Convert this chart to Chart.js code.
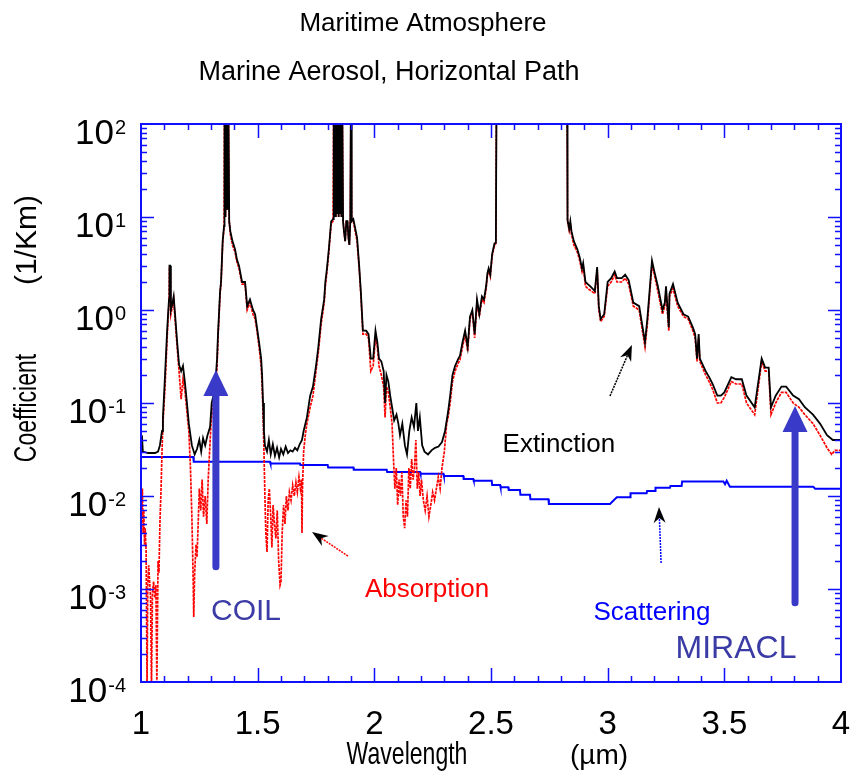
<!DOCTYPE html>
<html>
<head>
<meta charset="UTF-8">
<title>Maritime Atmosphere</title>
<script src="https://cdn.jsdelivr.net/npm/chart.js@4.4.0/dist/chart.umd.min.js"></script>
<style>
  body { margin: 0; background: #fff; }
</style>
</head>
<body>
<canvas id="chart" width="856" height="774"></canvas>
<script>
// values: [wavelength (um), coefficient (1/km)]
var extinction = [
  [1.000,0.032],[1.004,0.045],[1.008,0.030],[1.030,0.029],[1.060,0.029],[1.073,0.030],
  [1.081,0.035],[1.090,0.05],[1.094,0.07],[1.103,0.2],[1.112,0.6],[1.116,0.9],[1.120,1.3],[1.122,3.0],[1.125,3.0],[1.128,1.0],[1.135,1.2],[1.140,1.4],[1.146,0.9],
  [1.155,0.45],[1.163,0.26],[1.172,0.22],[1.180,0.25],[1.189,0.16],[1.197,0.10],[1.205,0.06],[1.218,0.035],[1.230,0.028],
  [1.240,0.032],[1.250,0.04],[1.258,0.03],[1.266,0.042],[1.275,0.035],[1.285,0.045],
  [1.296,0.055],[1.303,0.10],[1.317,0.14],[1.326,0.30],[1.330,0.55],[1.339,1.6],[1.343,2.0],[1.350,5.5],[1.356,8.0],
  [1.358,300],[1.362,10],[1.366,300],[1.370,12],[1.374,300],[1.378,9],
  [1.383,7],[1.392,5.5],[1.403,4.5],[1.411,3.5],[1.420,3.0],[1.433,2.0],[1.446,2.0],[1.455,1.1],[1.467,1.3],[1.480,1.0],
  [1.489,0.9],[1.497,0.65],[1.506,0.45],[1.515,0.30],[1.519,0.20],[1.523,0.10],[1.527,0.05],[1.531,0.035],
  [1.540,0.03],[1.548,0.04],[1.556,0.028],[1.565,0.036],[1.574,0.027],[1.583,0.033],[1.592,0.026],[1.600,0.032],[1.610,0.028],[1.620,0.034],[1.630,0.029],[1.640,0.031],[1.650,0.030],[1.660,0.033],[1.670,0.031],[1.680,0.036],
  [1.690,0.04],[1.697,0.05],[1.711,0.07],[1.725,0.12],[1.737,0.15],[1.750,0.25],[1.760,0.4],[1.772,0.8],[1.785,1.3],[1.790,2.0],[1.797,2.8],[1.805,4.5],[1.815,9],[1.823,9.5],
  [1.826,300],[1.829,10],[1.832,300],[1.835,10],[1.838,300],[1.841,11],[1.844,300],[1.847,10],[1.850,300],[1.853,11],[1.856,300],[1.859,10],[1.862,300],[1.866,9],[1.870,7],[1.875,5.5],[1.880,9],[1.885,9],[1.889,6],[1.893,5],[1.897,9],[1.900,300],[1.903,9],[1.910,9.5],
  [1.926,6],[1.935,3],[1.942,1.6],[1.951,0.6],[1.965,0.6],[1.975,0.55],[1.985,0.30],[1.995,0.30],[2.005,0.6],[2.013,0.45],[2.020,0.30],[2.030,0.28],[2.040,0.22],[2.046,0.10],[2.052,0.20],[2.060,0.17],[2.068,0.12],[2.076,0.09],[2.085,0.065],[2.095,0.075],[2.103,0.06],[2.110,0.045],[2.120,0.06],[2.131,0.035],[2.140,0.028],[2.150,0.05],[2.160,0.07],[2.170,0.055],[2.180,0.10],[2.187,0.05],[2.195,0.07],[2.205,0.035],[2.215,0.03],[2.230,0.028],[2.245,0.031],[2.260,0.033],[2.275,0.034],[2.290,0.038],
  [2.303,0.05],[2.316,0.08],[2.325,0.12],[2.335,0.20],[2.346,0.25],[2.360,0.30],[2.367,0.32],[2.378,0.45],[2.389,0.60],[2.400,0.40],[2.410,0.85],[2.420,1.0],[2.430,0.55],[2.440,1.3],[2.450,0.9],[2.461,1.4],[2.470,1.3],[2.479,1.8],[2.485,2.5],[2.490,2.8],[2.497,2.4],[2.505,4.0],[2.515,5.2],[2.521,5.3],[2.524,400],[2.600,1000],[2.800,1000],[2.826,400],
  [2.828,9.3],[2.835,7.5],[2.840,9.0],[2.845,7.0],[2.855,5.5],[2.870,4.5],[2.880,3.7],[2.890,2.8],[2.895,3.2],[2.905,2.0],[2.915,1.9],[2.930,1.75],[2.945,1.6],[2.955,2.9],[2.962,1.1],[2.970,0.8],[2.985,0.9],[3.000,2.0],[3.015,2.2],[3.030,2.6],[3.040,2.2],[3.060,2.2],[3.075,2.4],[3.090,2.1],[3.110,1.2],[3.135,1.1],[3.160,0.45],[3.170,0.8],[3.190,3.4],[3.200,2.6],[3.215,1.8],[3.235,1.0],[3.245,1.2],[3.250,1.8],[3.262,0.65],[3.265,1.5],[3.280,1.9],[3.300,1.2],[3.325,0.9],[3.345,0.85],[3.365,0.65],[3.375,0.55],[3.383,0.30],[3.390,0.55],[3.395,0.30],
  [3.420,0.22],[3.435,0.19],[3.450,0.16],[3.470,0.12],[3.485,0.12],[3.500,0.13],[3.530,0.19],[3.550,0.18],[3.575,0.18],[3.595,0.12],[3.630,0.09],[3.660,0.30],[3.675,0.24],[3.690,0.24],[3.700,0.09],[3.720,0.12],[3.745,0.15],[3.765,0.15],[3.795,0.12],[3.820,0.11],[3.845,0.09],[3.880,0.075],[3.910,0.06],[3.940,0.045],[3.965,0.040],[4.000,0.040]
];

var absorption = [
  [1.000,0.010],[1.003,0.006],[1.006,0.012],[1.009,0.004],[1.012,0.007],[1.015,0.003],[1.018,0.0045],[1.022,0.0025],[1.026,0.00009],[1.029,0.0011],[1.033,0.0018],[1.037,0.0012],[1.041,0.0008],[1.045,0.00009],[1.049,0.0009],[1.054,0.0012],[1.059,0.0008],[1.064,0.0011],[1.068,0.00009],[1.073,0.002],[1.077,0.0015],
  [1.081,0.005],[1.086,0.012],[1.090,0.03],[1.094,0.06],[1.103,0.15],[1.112,0.5],[1.116,0.8],[1.120,1.2],[1.122,2.8],[1.125,2.8],[1.128,0.9],[1.135,1.1],[1.140,1.3],[1.146,0.8],
  [1.155,0.40],[1.163,0.22],[1.172,0.11],[1.180,0.18],[1.189,0.13],[1.197,0.08],[1.205,0.05],[1.212,0.02],[1.218,0.006],[1.223,0.0015],[1.226,0.0005],[1.230,0.0015],[1.236,0.003],[1.240,0.0022],[1.245,0.005],[1.250,0.012],[1.256,0.007],[1.262,0.015],[1.268,0.006],[1.275,0.010],[1.282,0.005],[1.288,0.015],[1.294,0.03],
  [1.300,0.06],[1.309,0.10],[1.317,0.12],[1.326,0.25],[1.330,0.50],[1.339,1.5],[1.343,1.9],[1.350,5.2],[1.356,7.8],
  [1.358,300],[1.362,10],[1.366,300],[1.370,12],[1.374,300],[1.378,9],
  [1.383,6.5],[1.392,5.0],[1.403,4.2],[1.411,3.3],[1.420,2.8],[1.433,1.9],[1.446,1.9],[1.455,1.0],[1.467,1.2],[1.480,0.9],[1.489,0.8],[1.497,0.6],[1.506,0.4],[1.515,0.25],[1.519,0.16],[1.523,0.08],[1.527,0.03],[1.531,0.010],[1.535,0.004],[1.540,0.0025],
  [1.545,0.009],[1.550,0.012],[1.556,0.006],[1.561,0.0028],[1.566,0.008],[1.572,0.005],[1.578,0.0035],[1.584,0.007],[1.590,0.002],[1.596,0.0011],[1.600,0.0012],[1.605,0.004],[1.611,0.008],[1.617,0.005],[1.623,0.010],[1.630,0.007],[1.636,0.011],[1.643,0.009],[1.650,0.013],[1.657,0.010],[1.664,0.014],[1.670,0.011],[1.677,0.016],[1.683,0.012],[1.688,0.015],[1.690,0.004],[1.692,0.012],
  [1.697,0.03],[1.704,0.045],[1.711,0.06],[1.725,0.09],[1.737,0.12],[1.750,0.22],[1.760,0.35],[1.772,0.7],[1.785,1.2],[1.790,1.8],[1.797,2.6],[1.805,4.2],[1.815,8.5],[1.823,9.0],
  [1.826,300],[1.829,10],[1.832,300],[1.835,10],[1.838,300],[1.841,11],[1.844,300],[1.847,10],[1.850,300],[1.853,11],[1.856,300],[1.859,10],[1.862,300],[1.866,9],[1.870,7],[1.875,5.5],[1.880,9],[1.885,9],[1.889,6],[1.893,5],[1.897,9],[1.900,300],[1.903,9],[1.910,9.0],
  [1.926,5.5],[1.935,2.8],[1.942,1.5],[1.951,0.55],[1.965,0.55],[1.975,0.5],[1.985,0.22],[1.995,0.25],[2.005,0.5],[2.013,0.4],[2.020,0.25],[2.030,0.20],[2.040,0.15],[2.046,0.07],[2.052,0.15],[2.060,0.13],[2.068,0.09],[2.076,0.06],
  [2.082,0.025],[2.088,0.012],[2.094,0.02],[2.100,0.008],[2.106,0.015],[2.112,0.010],[2.118,0.018],[2.124,0.006],[2.130,0.0045],[2.136,0.009],[2.142,0.006],[2.148,0.02],[2.154,0.012],[2.160,0.025],[2.166,0.015],[2.172,0.02],[2.178,0.04],[2.184,0.012],[2.190,0.018],[2.196,0.010],[2.202,0.015],[2.210,0.009],[2.218,0.007],[2.226,0.010],[2.234,0.006],[2.242,0.008],[2.250,0.011],[2.258,0.009],[2.266,0.012],[2.274,0.016],[2.282,0.012],[2.290,0.020],
  [2.300,0.030],[2.310,0.06],[2.316,0.07],[2.325,0.10],[2.335,0.17],[2.346,0.22],[2.360,0.27],[2.367,0.29],[2.378,0.40],[2.389,0.55],[2.400,0.36],[2.410,0.80],[2.420,0.95],[2.430,0.50],[2.440,1.2],[2.450,0.85],[2.461,1.3],[2.470,1.2],[2.479,1.7],[2.485,2.4],[2.490,2.7],[2.497,2.3],[2.505,3.8],[2.515,5.0],[2.521,5.2],[2.524,400],[2.600,1000],[2.800,1000],[2.826,400],
  [2.828,9.0],[2.835,7.2],[2.840,8.5],[2.845,6.5],[2.855,5.0],[2.870,4.2],[2.880,3.4],[2.890,2.6],[2.895,3.0],[2.905,1.8],[2.915,1.7],[2.930,1.6],[2.945,1.5],[2.955,2.7],[2.962,1.0],[2.970,0.75],[2.985,0.85],[3.000,1.8],[3.015,2.0],[3.030,2.4],[3.040,2.0],[3.060,2.0],[3.075,2.2],[3.090,1.9],[3.110,1.1],[3.135,1.0],[3.160,0.40],[3.170,0.7],[3.190,3.1],[3.200,2.4],[3.215,1.6],[3.235,0.9],[3.245,1.1],[3.250,1.6],[3.262,0.6],[3.265,1.4],[3.280,1.7],[3.300,1.1],[3.325,0.85],[3.345,0.8],[3.365,0.6],[3.375,0.5],[3.383,0.28],[3.390,0.5],[3.395,0.28],
  [3.420,0.20],[3.435,0.17],[3.450,0.14],[3.470,0.10],[3.485,0.10],[3.500,0.115],[3.530,0.17],[3.550,0.16],[3.575,0.16],[3.595,0.10],[3.630,0.075],[3.660,0.28],[3.675,0.22],[3.690,0.22],[3.700,0.075],[3.720,0.10],[3.745,0.13],[3.765,0.13],[3.795,0.10],[3.820,0.09],[3.845,0.075],[3.880,0.06],[3.910,0.045],[3.940,0.033],[3.960,0.028],[3.975,0.031],[4.000,0.031]
];

var scattering = [
  [1.000,0.0263],[1.224,0.0263],[1.226,0.0234],[1.553,0.0234],[1.555,0.0224],[1.681,0.0224],[1.683,0.0215],[1.800,0.0215],[1.802,0.0203],[1.910,0.0203],[1.912,0.0191],[2.053,0.0191],[2.055,0.0181],[2.196,0.0181],[2.198,0.0173],[2.296,0.0173],[2.298,0.0164],[2.381,0.0164],[2.383,0.0152],[2.424,0.0152],[2.426,0.0146],[2.503,0.0146],[2.505,0.0131],[2.539,0.0131],[2.541,0.0124],[2.574,0.0124],[2.576,0.0116],[2.624,0.0116],[2.626,0.0103],[2.667,0.0103],[2.669,0.0092],[2.746,0.0092],[2.748,0.0082],
  [3.010,0.0082],[3.039,0.0097],[3.096,0.0097],[3.098,0.0107],[3.167,0.0107],[3.169,0.0113],[3.203,0.0113],[3.205,0.0123],[3.267,0.0123],[3.269,0.0128],[3.317,0.0128],[3.319,0.0143],[3.496,0.0143],[3.503,0.0134],[3.510,0.0146],[3.524,0.0126],[3.881,0.0126],[3.889,0.0120],[4.000,0.0120]
];

var xTickLabels = ['1', '1.5', '2', '2.5', '3', '3.5', '4'];
var xTickValues = [1, 1.5, 2, 2.5, 3, 3.5, 4];
var yTickExponents = [2, 1, 0, -1, -2, -3, -4];

// annotations, in data units
var bigArrows = [
  { x: 1.321, from: 0.00173, to: 0.226, label: 'COIL', lx: 1.450, ly: 0.00046, size: 30 },
  { x: 3.803, from: 0.00071, to: 0.093, label: 'MIRACL', lx: 3.550, ly: 0.00018, size: 32 }
];
var smallArrows = [
  { from: [3.010, 0.119], to: [3.104, 0.42], color: '#000000' },
  { from: [1.887, 0.00226], to: [1.733, 0.0041], color: '#ff0000' },
  { from: [3.229, 0.0019], to: [3.220, 0.0076], color: '#0000ff' }
];
var curveLabels = [
  { text: 'Extinction', x: 2.791, y: 0.0297, color: '#000000' },
  { text: 'Absorption', x: 2.226, y: 0.00082, color: '#ff0000' },
  { text: 'Scattering', x: 3.190, y: 0.000464, color: '#0000ff' }
];

var SANS = '"Liberation Sans", Arial, sans-serif';

function drawArrowHead(ctx, x1, y1, x2, y2, len, half, notch) {
  var ang = Math.atan2(y2 - y1, x2 - x1);
  var c = Math.cos(ang), s = Math.sin(ang);
  ctx.beginPath();
  ctx.moveTo(x2, y2);
  ctx.lineTo(x2 - len * c + half * s, y2 - len * s - half * c);
  ctx.lineTo(x2 - (len - notch) * c, y2 - (len - notch) * s);
  ctx.lineTo(x2 - len * c - half * s, y2 - len * s + half * c);
  ctx.closePath();
  ctx.fill();
}

// condensed text: regular face squeezed horizontally
function narrowText(ctx, text, x, y, squeeze) {
  ctx.save();
  ctx.translate(x, y);
  ctx.scale(squeeze, 1);
  ctx.fillText(text, 0, 0);
  ctx.restore();
}

var decorations = {
  id: 'decorations',
  afterDatasetsDraw: function (chart) {
    var ctx = chart.ctx, a = chart.chartArea;
    var xs = chart.scales.x, ys = chart.scales.y;
    ctx.save();

    // frame and inward ticks on all four sides
    ctx.strokeStyle = '#1010ff';
    ctx.lineWidth = 2;
    ctx.strokeRect(a.left, a.top, a.right - a.left, a.bottom - a.top);
    ctx.lineWidth = 1.5;
    ctx.beginPath();
    for (var i = 1; i < 30; i++) {
      var v = 1 + i / 10;
      var px = Math.round(xs.getPixelForValue(v)) + 0.5;
      var len = (i % 5 === 0) ? 14 : 6;
      ctx.moveTo(px, a.bottom); ctx.lineTo(px, a.bottom - len);
      ctx.moveTo(px, a.top); ctx.lineTo(px, a.top + len);
    }
    for (var d = -4; d <= 1; d++) {
      for (var m = 1; m <= 9; m++) {
        if (d === -4 && m === 1) continue;
        var py = Math.round(ys.getPixelForValue(m * Math.pow(10, d))) + 0.5;
        var l2 = (m === 1) ? 13 : 6;
        ctx.moveTo(a.left, py); ctx.lineTo(a.left + l2, py);
        ctx.moveTo(a.right, py); ctx.lineTo(a.right - l2, py);
      }
    }
    ctx.stroke();

    // y tick labels: 10 with superscript exponent
    ctx.fillStyle = '#000';
    ctx.textBaseline = 'alphabetic';
    yTickExponents.forEach(function (e) {
      var py = ys.getPixelForValue(Math.pow(10, e));
      ctx.font = '20px ' + SANS;
      ctx.textAlign = 'right';
      var ex = String(e);
      var w = ctx.measureText(ex).width;
      ctx.fillText(ex, 126, py + 10);
      ctx.font = '35px ' + SANS;
      ctx.fillText('10', 126 - w - 1, py + 20);
    });

    // x tick labels
    ctx.font = '33px ' + SANS;
    ctx.textAlign = 'center';
    xTickValues.forEach(function (v, k) {
      ctx.fillText(xTickLabels[k], xs.getPixelForValue(v), 734);
    });

    // axis titles
    ctx.font = '32px ' + SANS;
    narrowText(ctx, 'Wavelength', 407, 764, 0.72);
    ctx.font = '28px ' + SANS;
    ctx.fillText('(\u00b5m)', 599, 764);
    ctx.save();
    ctx.translate(36, 0);
    ctx.rotate(-Math.PI / 2);
    ctx.font = '32px ' + SANS;
    narrowText(ctx, 'Coefficient', -408, 0, 0.72);
    ctx.font = '30px ' + SANS;
    ctx.fillText('(1/Km)', -240, 0);
    ctx.restore();

    // titles
    ctx.font = '26px ' + SANS;
    ctx.fillText('Maritime Atmosphere', 423, 31);
    ctx.font = '27px ' + SANS;
    ctx.fillText('Marine Aerosol, Horizontal Path', 389, 80);

    // curve labels
    ctx.font = '26px ' + SANS;
    curveLabels.forEach(function (t) {
      ctx.fillStyle = t.color;
      ctx.fillText(t.text, xs.getPixelForValue(t.x), ys.getPixelForValue(t.y));
    });

    // small pointer arrows
    smallArrows.forEach(function (s) {
      var x1 = xs.getPixelForValue(s.from[0]), y1 = ys.getPixelForValue(s.from[1]);
      var x2 = xs.getPixelForValue(s.to[0]), y2 = ys.getPixelForValue(s.to[1]);
      var ang = Math.atan2(y2 - y1, x2 - x1);
      ctx.strokeStyle = s.color;
      ctx.lineWidth = 1.5;
      ctx.setLineDash([2, 1]);
      ctx.beginPath();
      ctx.moveTo(x1, y1);
      ctx.lineTo(x2 - 10 * Math.cos(ang), y2 - 10 * Math.sin(ang));
      ctx.stroke();
      ctx.setLineDash([]);
      ctx.fillStyle = '#000';
      drawArrowHead(ctx, x1, y1, x2, y2, 16, 6, 5);
    });

    // laser line arrows
    bigArrows.forEach(function (b) {
      var px = xs.getPixelForValue(b.x);
      var y1 = ys.getPixelForValue(b.from), y2 = ys.getPixelForValue(b.to);
      ctx.strokeStyle = '#3a3ac8';
      ctx.fillStyle = '#3a3ac8';
      ctx.lineWidth = 7;
      ctx.lineCap = 'round';
      ctx.beginPath();
      ctx.moveTo(px, y1);
      ctx.lineTo(px, y2 + 20);
      ctx.stroke();
      ctx.lineCap = 'butt';
      drawArrowHead(ctx, px, y1, px, y2, 26, 12.5, 0);
      ctx.fillStyle = '#3b3ba6';
      ctx.font = b.size + 'px ' + SANS;
      ctx.fillText(b.label, xs.getPixelForValue(b.lx), ys.getPixelForValue(b.ly));
    });

    ctx.restore();
  }
};

new Chart(document.getElementById('chart'), {
  type: 'line',
  data: {
    datasets: [
      { label: 'Extinction', data: extinction, borderColor: '#000000', borderWidth: 1.8, order: 0 },
      { label: 'Absorption', data: absorption, borderColor: '#ff0000', borderWidth: 1.7, borderDash: [3, 1], order: 1 },
      { label: 'Scattering', data: scattering, borderColor: '#0000ff', borderWidth: 2, order: 2 }
    ]
  },
  options: {
    responsive: false,
    animation: false,
    devicePixelRatio: 1,
    layout: { padding: { left: 141, top: 124, right: 15, bottom: 92 } },
    elements: { point: { radius: 0 }, line: { tension: 0, fill: false } },
    scales: {
      x: { type: 'linear', min: 1, max: 4, display: false },
      y: { type: 'logarithmic', min: 1e-4, max: 1e2, display: false }
    },
    plugins: { legend: { display: false }, tooltip: { enabled: false } }
  },
  plugins: [decorations]
});
</script>
</body>
</html>
